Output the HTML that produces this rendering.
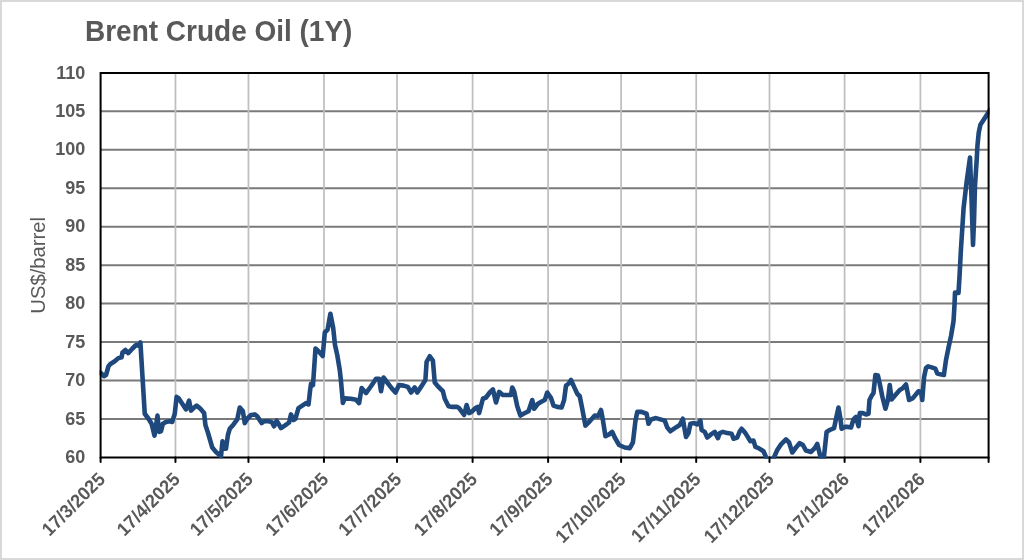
<!DOCTYPE html>
<html><head><meta charset="utf-8"><style>
html,body{margin:0;padding:0;background:#fff;}
body{width:1024px;height:560px;overflow:hidden;}
svg{display:block;will-change:transform;font-family:"Liberation Sans",sans-serif;}
</style></head><body>
<svg width="1024" height="560" viewBox="0 0 1024 560">
<rect x="0" y="0" width="1024" height="560" fill="#fff"/>
<rect x="1" y="1" width="1022" height="558" fill="none" stroke="#d9d9d9" stroke-width="2"/>
<text transform="translate(85,40.6) scale(1,1.04)" font-size="28" font-weight="bold" fill="#595959">Brent Crude Oil (1Y)</text>
<line x1="100.6" y1="418.95" x2="988.6" y2="418.95" stroke="#7a7a7a" stroke-width="2"/>
<line x1="100.6" y1="380.50" x2="988.6" y2="380.50" stroke="#7a7a7a" stroke-width="2"/>
<line x1="100.6" y1="342.05" x2="988.6" y2="342.05" stroke="#7a7a7a" stroke-width="2"/>
<line x1="100.6" y1="303.60" x2="988.6" y2="303.60" stroke="#7a7a7a" stroke-width="2"/>
<line x1="100.6" y1="265.15" x2="988.6" y2="265.15" stroke="#7a7a7a" stroke-width="2"/>
<line x1="100.6" y1="226.70" x2="988.6" y2="226.70" stroke="#7a7a7a" stroke-width="2"/>
<line x1="100.6" y1="188.25" x2="988.6" y2="188.25" stroke="#7a7a7a" stroke-width="2"/>
<line x1="100.6" y1="149.80" x2="988.6" y2="149.80" stroke="#7a7a7a" stroke-width="2"/>
<line x1="100.6" y1="111.35" x2="988.6" y2="111.35" stroke="#7a7a7a" stroke-width="2"/>
<line x1="175.45" y1="72.9" x2="175.45" y2="457.4" stroke="#bfbfbf" stroke-width="1.75"/>
<line x1="248.45" y1="72.9" x2="248.45" y2="457.4" stroke="#bfbfbf" stroke-width="1.75"/>
<line x1="323.95" y1="72.9" x2="323.95" y2="457.4" stroke="#bfbfbf" stroke-width="1.75"/>
<line x1="397.00" y1="72.9" x2="397.00" y2="457.4" stroke="#bfbfbf" stroke-width="1.75"/>
<line x1="472.60" y1="72.9" x2="472.60" y2="457.4" stroke="#bfbfbf" stroke-width="1.75"/>
<line x1="548.10" y1="72.9" x2="548.10" y2="457.4" stroke="#bfbfbf" stroke-width="1.75"/>
<line x1="621.10" y1="72.9" x2="621.10" y2="457.4" stroke="#bfbfbf" stroke-width="1.75"/>
<line x1="696.20" y1="72.9" x2="696.20" y2="457.4" stroke="#bfbfbf" stroke-width="1.75"/>
<line x1="769.50" y1="72.9" x2="769.50" y2="457.4" stroke="#bfbfbf" stroke-width="1.75"/>
<line x1="844.60" y1="72.9" x2="844.60" y2="457.4" stroke="#bfbfbf" stroke-width="1.75"/>
<line x1="920.40" y1="72.9" x2="920.40" y2="457.4" stroke="#bfbfbf" stroke-width="1.75"/>
<text transform="translate(85.2,463.00) scale(1,1.04)" font-size="18" font-weight="bold" fill="#595959" text-anchor="end">60</text>
<text transform="translate(85.2,424.55) scale(1,1.04)" font-size="18" font-weight="bold" fill="#595959" text-anchor="end">65</text>
<text transform="translate(85.2,386.10) scale(1,1.04)" font-size="18" font-weight="bold" fill="#595959" text-anchor="end">70</text>
<text transform="translate(85.2,347.65) scale(1,1.04)" font-size="18" font-weight="bold" fill="#595959" text-anchor="end">75</text>
<text transform="translate(85.2,309.20) scale(1,1.04)" font-size="18" font-weight="bold" fill="#595959" text-anchor="end">80</text>
<text transform="translate(85.2,270.75) scale(1,1.04)" font-size="18" font-weight="bold" fill="#595959" text-anchor="end">85</text>
<text transform="translate(85.2,232.30) scale(1,1.04)" font-size="18" font-weight="bold" fill="#595959" text-anchor="end">90</text>
<text transform="translate(85.2,193.85) scale(1,1.04)" font-size="18" font-weight="bold" fill="#595959" text-anchor="end">95</text>
<text transform="translate(85.2,155.40) scale(1,1.04)" font-size="18" font-weight="bold" fill="#595959" text-anchor="end">100</text>
<text transform="translate(85.2,116.95) scale(1,1.04)" font-size="18" font-weight="bold" fill="#595959" text-anchor="end">105</text>
<text transform="translate(85.2,78.50) scale(1,1.04)" font-size="18" font-weight="bold" fill="#595959" text-anchor="end">110</text>
<text transform="translate(45,265.3) rotate(-90) scale(1,1.04)" font-size="20.25" fill="#595959" text-anchor="middle">US$/barrel</text>
<line x1="100.60" y1="457.4" x2="100.60" y2="462" stroke="#000" stroke-width="2" stroke-linecap="round"/>
<text transform="translate(101.60,475.7) rotate(-45) scale(1,1.04)" x="0" y="6.3" font-size="18" font-weight="bold" fill="#595959" text-anchor="end">17/3/2025</text>
<line x1="175.45" y1="457.4" x2="175.45" y2="462" stroke="#000" stroke-width="2" stroke-linecap="round"/>
<text transform="translate(176.45,475.7) rotate(-45) scale(1,1.04)" x="0" y="6.3" font-size="18" font-weight="bold" fill="#595959" text-anchor="end">17/4/2025</text>
<line x1="248.45" y1="457.4" x2="248.45" y2="462" stroke="#000" stroke-width="2" stroke-linecap="round"/>
<text transform="translate(249.45,475.7) rotate(-45) scale(1,1.04)" x="0" y="6.3" font-size="18" font-weight="bold" fill="#595959" text-anchor="end">17/5/2025</text>
<line x1="323.95" y1="457.4" x2="323.95" y2="462" stroke="#000" stroke-width="2" stroke-linecap="round"/>
<text transform="translate(324.95,475.7) rotate(-45) scale(1,1.04)" x="0" y="6.3" font-size="18" font-weight="bold" fill="#595959" text-anchor="end">17/6/2025</text>
<line x1="397.00" y1="457.4" x2="397.00" y2="462" stroke="#000" stroke-width="2" stroke-linecap="round"/>
<text transform="translate(398.00,475.7) rotate(-45) scale(1,1.04)" x="0" y="6.3" font-size="18" font-weight="bold" fill="#595959" text-anchor="end">17/7/2025</text>
<line x1="472.60" y1="457.4" x2="472.60" y2="462" stroke="#000" stroke-width="2" stroke-linecap="round"/>
<text transform="translate(473.60,475.7) rotate(-45) scale(1,1.04)" x="0" y="6.3" font-size="18" font-weight="bold" fill="#595959" text-anchor="end">17/8/2025</text>
<line x1="548.10" y1="457.4" x2="548.10" y2="462" stroke="#000" stroke-width="2" stroke-linecap="round"/>
<text transform="translate(549.10,475.7) rotate(-45) scale(1,1.04)" x="0" y="6.3" font-size="18" font-weight="bold" fill="#595959" text-anchor="end">17/9/2025</text>
<line x1="621.10" y1="457.4" x2="621.10" y2="462" stroke="#000" stroke-width="2" stroke-linecap="round"/>
<text transform="translate(622.10,475.7) rotate(-45) scale(1,1.04)" x="0" y="6.3" font-size="18" font-weight="bold" fill="#595959" text-anchor="end">17/10/2025</text>
<line x1="696.20" y1="457.4" x2="696.20" y2="462" stroke="#000" stroke-width="2" stroke-linecap="round"/>
<text transform="translate(697.20,475.7) rotate(-45) scale(1,1.04)" x="0" y="6.3" font-size="18" font-weight="bold" fill="#595959" text-anchor="end">17/11/2025</text>
<line x1="769.50" y1="457.4" x2="769.50" y2="462" stroke="#000" stroke-width="2" stroke-linecap="round"/>
<text transform="translate(770.50,475.7) rotate(-45) scale(1,1.04)" x="0" y="6.3" font-size="18" font-weight="bold" fill="#595959" text-anchor="end">17/12/2025</text>
<line x1="844.60" y1="457.4" x2="844.60" y2="462" stroke="#000" stroke-width="2" stroke-linecap="round"/>
<text transform="translate(845.60,475.7) rotate(-45) scale(1,1.04)" x="0" y="6.3" font-size="18" font-weight="bold" fill="#595959" text-anchor="end">17/1/2026</text>
<line x1="920.40" y1="457.4" x2="920.40" y2="462" stroke="#000" stroke-width="2" stroke-linecap="round"/>
<text transform="translate(921.40,475.7) rotate(-45) scale(1,1.04)" x="0" y="6.3" font-size="18" font-weight="bold" fill="#595959" text-anchor="end">17/2/2026</text>
<line x1="988.6" y1="457.4" x2="988.6" y2="462" stroke="#000" stroke-width="2" stroke-linecap="round"/>
<line x1="100.6" y1="457.4" x2="988.6" y2="457.4" stroke="#000" stroke-width="2"/>
<defs><clipPath id="c"><rect x="99.6" y="60" width="890.00" height="398.80"/></clipPath></defs>
<polyline clip-path="url(#c)" fill="none" stroke="#1F497D" stroke-width="4.6" stroke-linejoin="round" stroke-linecap="round" points="99,372.6 101,373 103.9,376.2 106,375 108.5,366.25 110.4,364 114.75,361.25 118.5,358.1 121.6,357.25 122.5,352.5 125.4,350 128.25,353.1 132.25,348.75 136,345 138.25,345.6 140.4,342.5 144.75,413.75 148.5,418.75 151.6,423.75 154.5,435.6 157.5,415.6 159.1,431.9 161,431.25 162.9,423.75 166,421.9 169.75,421.25 172.25,421.9 174.75,413.75 176.6,396.9 178.5,398.1 182.25,403.75 186,409.4 189.1,400.6 191,410.6 194.1,407.5 196.6,405.6 199.75,408.1 204.1,413.1 205.4,425 207.9,432.5 212.25,447.5 216,451.9 221,456.25 222.5,441.25 224.1,448.75 226,448.75 227.9,435 229.75,428.75 233.5,424.4 237.25,419.4 239.75,407.5 242.9,411.25 244.75,423.1 247.25,418.75 251,415 254.75,414.4 257.25,416.25 261.6,423.1 264.1,421.25 268.5,421.25 271.6,421.9 274.1,426.25 276.6,420.6 278.5,423.75 281,428.1 284.75,425.6 289.1,422.5 291,414.4 293.5,420 295.4,418.75 298.5,408.1 302.25,405.6 306,403.1 308.5,404.4 310,391.25 311,383.75 313,385 315.5,348.5 319.2,352 322.7,356.1 324.8,332.5 327.6,329.7 330.4,313.7 333.2,328 335,345 337.25,355 339.75,370 341,381.25 342,392.5 342.9,403 344.75,398.4 351,398.8 356,399.7 359.1,403.1 361.6,388.1 366,393.1 371,386.25 376,378.75 379.1,378.75 381,391.25 383.5,377.5 387.25,382.5 391.6,388.1 395.5,392.5 399,385 403.5,385.6 407.9,386.9 411,392.5 414.75,387.5 417.25,392.5 421,386.9 425.4,380 426.6,361.9 429.75,356.25 432.9,360.6 434.75,382.5 438.5,386.9 442.9,391.25 444.75,398.75 448.5,406.25 452.25,406.9 457.25,406.9 459.1,408.1 464.1,415 466.6,405 469.1,413.1 471.6,411.9 475.4,408.1 477.9,406.9 479.1,413.1 482.9,398.75 486,397.5 489.75,392.5 492.9,389.4 496,402.5 499.1,391.9 502.9,395 508.5,395 511,395 512.25,387.5 514.1,391.25 517.25,406.25 520.4,415.6 523.5,413.75 528.5,411.25 532.25,400 534.1,408.75 537.9,403.75 542.25,401.25 544.75,400 547.25,392.5 551,398.1 553.5,405.6 557.25,406.9 561.6,407.5 564.1,400 566,385.6 568.5,383.75 571,380 574.1,386.9 577.25,393.75 579.75,396.25 582.25,408.75 585.4,425.6 589.75,421.25 594.75,415.6 597.9,416.25 601,410 602.9,420 605.4,436.25 609.1,434.4 612.25,431.9 614.75,437.5 619.1,445 624.75,447.5 629.75,448.1 632.9,442.5 635.4,421.25 637.25,411.9 641.6,411.9 646.6,413.75 648.5,423.75 651,419.4 656,418.1 660.4,419.4 664.75,420.6 667.25,427.5 670.4,431.25 674.75,428.1 679.75,425 682.9,418.75 684.75,430 686,436.9 688.5,433.1 690.4,423.75 694.1,423.1 697.25,424.4 700.4,420.6 701.6,430 704.75,431.9 707.25,437.5 711,434.4 714.75,431.9 717.9,438.1 719.75,433.1 722.9,431.9 727.25,433.1 731.6,433.75 733.5,438.75 737.25,437.5 739.75,431.25 741.6,428.75 745.4,433.1 750.4,441.25 753.5,440.6 755.4,446.9 758.5,448.1 763.5,451.25 768.5,463 771.5,463 777.25,450 781,444.4 786,439.4 789.1,442.5 792.25,452.5 796,447.5 799.75,443.1 802.9,445 806,450.6 811,451.9 814.75,448.1 817.25,444 821.5,461 823.5,461 826.6,431.9 829.75,430 834.1,428.1 836,418.75 838.5,407.5 840.4,418.75 841.6,428.75 844.75,426.9 847.9,426.9 851,427.5 853.5,419.4 856,416.9 858.5,426.25 859.75,413.1 862.9,413.1 866,414.4 868.5,413.75 869.5,400 871.5,396 873.5,393 875.4,375 877.9,375.6 879.75,383.75 882.25,396.25 885.4,408.75 887.9,400 889.75,385 891.6,399.4 895.4,395 899.75,390 902.9,388.1 906,384.4 909.1,400 912.9,398.1 918.5,391.25 921,391.9 922.25,400 924.1,376.9 926,368.1 928.1,366.4 931.7,367.4 935.3,368.6 937.4,373.6 940.3,374.3 943.9,375 946,360 948.9,345.7 951,336.25 953.5,321.25 954.5,305 955,292.5 958.5,293 959.6,275 960.9,250 963.6,208 966.6,182 970,157.5 971.4,194.6 973,245 974,221.4 975,185.7 976.75,159 977.5,145 978.75,132.5 980.4,124.8 990,110"/>
<polyline points="100.6,458.4 100.6,72.9 988.6,72.9 988.6,458.4" fill="none" stroke="#000" stroke-width="2"/>
</svg>
</body></html>
